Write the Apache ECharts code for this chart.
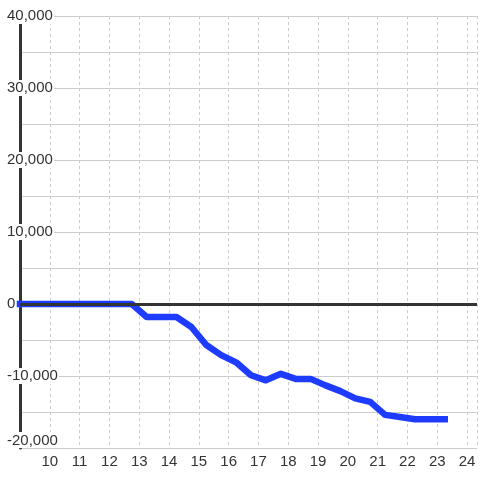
<!DOCTYPE html>
<html>
<head>
<meta charset="utf-8">
<script src="https://cdn.jsdelivr.net/npm/echarts@6/dist/echarts.min.js"></script>
<style>
  html, body { margin: 0; padding: 0; background: #fff; }
  #chart { width: 480px; height: 480px; }
</style>
</head>
<body>
<div id="chart"></div>
<script>
// hour of day (x) and running value (y)
var hours = [9, 12.75, 13.25, 13.75, 14.25, 14.75, 15.25, 15.75, 16.25, 16.75, 17.25, 17.75,
  18.25, 18.75, 19.25, 19.75, 20.25, 20.75, 21.25, 21.75, 22.25, 22.75, 23.25];
var values = [0, 0, -1800, -1800, -1800, -3200, -5700, -7100, -8100, -9900, -10600, -9700,
  -10400, -10400, -11300, -12100, -13100, -13600, -15400, -15700, -16000, -16000, -16000];

var xMin = 9, xMax = 24.333, yMin = -20000, yMax = 40000;

var chart = echarts.init(document.getElementById("chart"));

var points = hours.map(function (h, i) { return [h, values[i]]; });

var option = {
  animation: false,
  backgroundColor: "#fff",
  textStyle: { fontFamily: "Liberation Sans" },
  grid: { left: 20, right: 0, top: 16, bottom: 32, containLabel: false },
  xAxis: {
    type: "value",
    min: xMin,
    max: xMax,
    interval: 1,
    axisLine: { show: true, lineStyle: { color: "#ccc", width: 1 } },
    axisTick: { show: false },
    axisLabel: {
      color: "#333",
      fontSize: 15,
      margin: 6,
      showMinLabel: false,
      formatter: function (v) { return Number.isInteger(v) && v > xMin ? String(v) : ""; }
    },
    splitLine: { show: true, lineStyle: { color: "#ccc", type: [3, 3], width: 1 } }
  },
  yAxis: {
    type: "value",
    min: yMin,
    max: yMax,
    interval: 10000,
    axisLine: { show: true, lineStyle: { color: "#333", width: 3 } },
    axisTick: { show: false },
    axisLabel: {
      color: "#333",
      fontSize: 15,
      align: "left",
      margin: 14,
      backgroundColor: "#fff",
      padding: [1, 1, 0, 1],
      verticalAlignMinLabel: "bottom",
      formatter: function (v) { return v.toLocaleString("en-US"); }
    },
    splitLine: { show: true, lineStyle: { color: "#ccc", width: 1 } },
    minorTick: { show: false, splitNumber: 2 },
    minorSplitLine: { show: true, lineStyle: { color: "#ccc", width: 1 } }
  },
  series: [
    {
      // zero reference line, kept under the data line
      type: "line",
      data: [],
      z: 1,
      silent: true,
      markLine: {
        silent: true,
        symbol: "none",
        label: { show: false },
        lineStyle: { color: "#333", width: 3, type: "solid" },
        data: [{ yAxis: 0 }]
      }
    },
    {
      type: "line",
      data: points,
      z: 3,
      showSymbol: false,
      symbol: "none",
      lineStyle: { color: "#1e3cff", width: 6.5, join: "round", cap: "square" }
    }
  ]
};

chart.setOption(option);
</script>
</body>
</html>
